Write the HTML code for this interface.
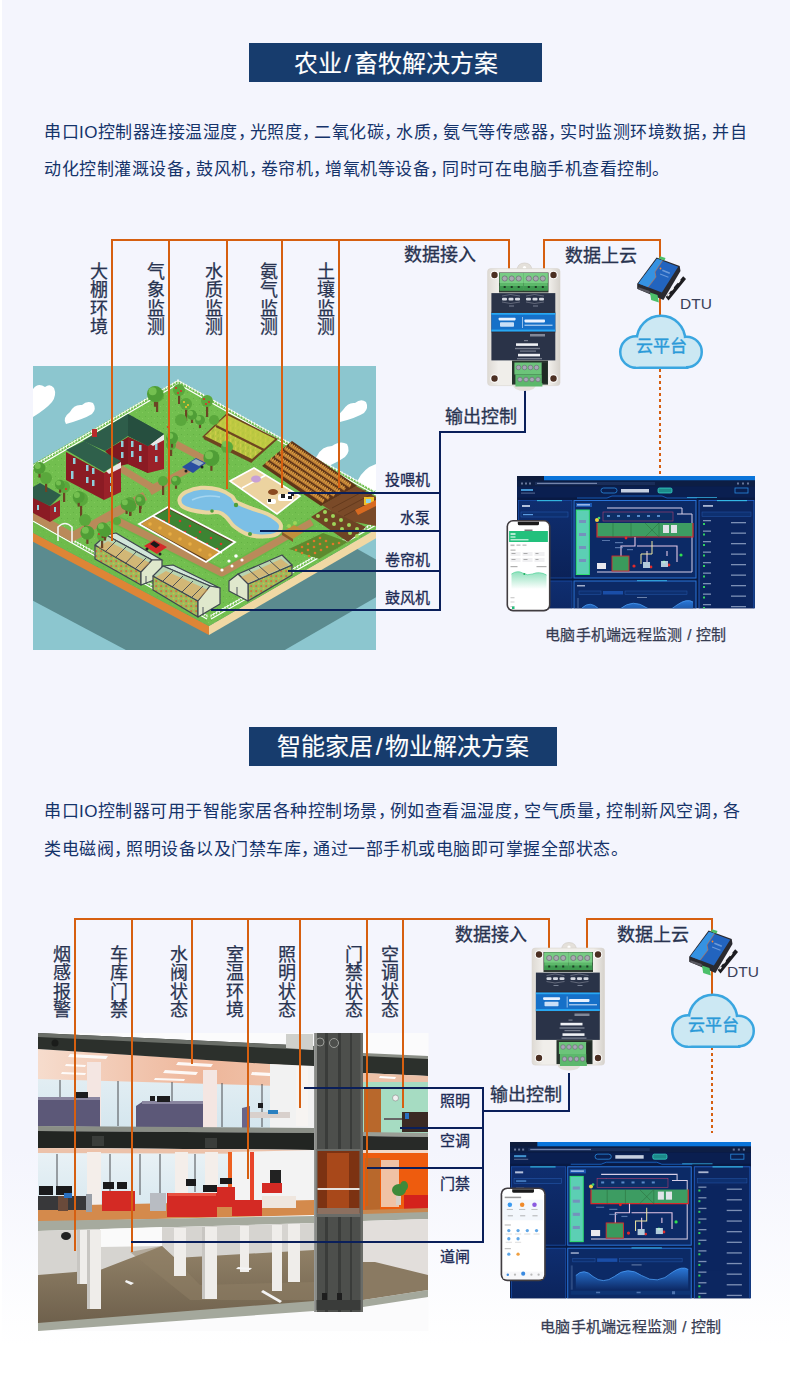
<!DOCTYPE html>
<html lang="zh-CN">
<head>
<meta charset="utf-8">
<style>
html,body{margin:0;padding:0;}
body{width:790px;height:1389px;overflow:hidden;font-family:"Liberation Sans",sans-serif;}
#pg{position:relative;width:790px;height:1389px;background:linear-gradient(to bottom,#f4f5fd 0,#f4f5fd 1150px,#ffffff 1345px);overflow:hidden;}
.a{position:absolute;white-space:nowrap;}
.title{position:absolute;background:#173c6d;color:#fff;-webkit-text-stroke:0.15px #fff;font-size:24px;line-height:39px;height:39px;text-align:center;}
.para{position:absolute;left:44px;color:#15336a;font-size:17px;line-height:37px;letter-spacing:0.5px;white-space:nowrap;}
.c{display:inline-block;width:12px;overflow:visible;}
.title span{position:relative;top:1px;}
.sl2{display:inline-block;width:12px;text-align:center;font-style:normal;}
.v{position:absolute;color:#283350;-webkit-text-stroke:0.25px #283350;font-size:18px;line-height:18.4px;width:18px;text-align:center;}
.lb{position:absolute;color:#283350;-webkit-text-stroke:0.3px #283350;font-size:18px;line-height:18px;white-space:nowrap;}
.sl{position:absolute;color:#1d2b55;-webkit-text-stroke:0.3px #1d2b55;font-size:15px;line-height:15px;white-space:nowrap;}
.cap{position:absolute;color:#363c52;-webkit-text-stroke:0.25px #363c52;font-size:15px;line-height:15px;letter-spacing:0.3px;white-space:nowrap;}
svg{position:absolute;left:0;top:0;}
</style>
</head>
<body>
<div id="pg">
<div class="a" style="left:0;top:0;width:2.5px;height:1389px;background:linear-gradient(to right,#ffffff 0,#ffffff 1.5px,rgba(255,255,255,0) 2.5px);"></div>

<!-- ============ SECTION 1 ============ -->
<div class="title" style="left:249px;top:43px;width:293px;"><span>农业<i class="sl2">/</i>畜牧解决方案</span></div>
<div class="para" style="top:113.5px;">串口IO控制器连接温湿度<span class="c">，</span>光照度<span class="c">，</span>二氧化碳<span class="c">，</span>水质<span class="c">，</span>氨气等传感器<span class="c">，</span>实时监测环境数据<span class="c">，</span>并自</div>
<div class="para" style="top:150.5px;">动化控制灌溉设备<span class="c">，</span>鼓风机<span class="c">，</span>卷帘机<span class="c">，</span>增氧机等设备<span class="c">，</span>同时可在电脑手机查看控制。</div>

<!-- FARM ILLUSTRATION -->
<svg id="farm" width="790" height="1389" viewBox="0 0 790 1389">
 <defs>
  <clipPath id="fclip"><rect x="33" y="366" width="343" height="284"/></clipPath>
  <pattern id="wheatY" width="5" height="6" patternUnits="userSpaceOnUse" patternTransform="skewY(-35)"><rect width="5" height="6" fill="#b8c640"/><rect x="0" y="0" width="1" height="4" fill="#d8d050" opacity="0.8"/><rect x="2.5" y="2" width="1" height="3" fill="#98b034" opacity="0.8"/></pattern>
  <pattern id="wheatB" width="4" height="6" patternUnits="userSpaceOnUse"><rect width="4" height="6" fill="#9a6230"/><rect x="0.5" y="0" width="1" height="4.5" fill="#d9a040"/><rect x="2.5" y="1.5" width="0.8" height="3.5" fill="#c98a34"/></pattern>
  <pattern id="crops" width="5" height="5" patternUnits="userSpaceOnUse"><rect width="5" height="5" fill="#98bc5c"/><circle cx="1.2" cy="1.2" r="1.1" fill="#d8643a" opacity="0.85"/><circle cx="3.6" cy="3.4" r="1" fill="#e0b444" opacity="0.85"/></pattern>
  <pattern id="grass" width="6" height="6" patternUnits="userSpaceOnUse"><rect width="6" height="6" fill="#72bf4f"/><rect x="1" y="2" width="1" height="1" fill="#64b044"/><rect x="4" y="4" width="1" height="1" fill="#82c95c"/></pattern>
 </defs>
 <g clip-path="url(#fclip)">
  <rect x="33" y="366" width="343" height="284" fill="#8cc6cf"/>
  <!-- clouds -->
  <g fill="#fff">
   <path d="M33 389 Q38 382 45 387 Q50 383 54 388 Q57 395 52 402 Q46 409 33 417 Z"/>
   <path d="M66 424 Q62 418 70 412 Q74 404 82 405 Q87 400 93 403 Q97 409 92 414 Q84 419 66 424 Z"/>
   <path d="M340 422 Q336 416 343 410 Q348 402 355 403 Q361 398 366 402 Q369 408 364 413 Q356 418 340 422 Z"/>
   <path d="M314 471 Q309 464 317 456 Q322 446 332 446 Q340 440 347 444 Q351 451 345 457 Q334 465 314 471 Z"/>
   <path d="M355 496 Q350 488 358 480 Q364 468 376 464 L376 490 Z"/>
  </g>
  <!-- shadow -->
  <polygon points="178,448 409,578 209,694 -29,568" fill="#5b8b8f"/>
  <!-- platform sides -->
  <polygon points="-29,500 209,626 209,635 -29,509" fill="#de8536"/>
  <polygon points="209,626 409,510 409,519 209,635" fill="#f0d8a4"/>
  <!-- platform top -->
  <polygon points="178,380 409,510 209,626 -29,500" fill="url(#grass)"/>
  <polygon points="33,522 205,617 209,626 -29,500 33,468" fill="#6ab848" opacity="0.5"/>
  <!-- fences -->
  <g stroke="#fff" stroke-width="1.2" fill="none">
   <path d="M33 469 L178 384 L376 495"/>
   <path d="M33 521 L207 619" />
   <path d="M211 619 L376 525" />
  </g>
  <g stroke="#fff" stroke-width="0.9" fill="none">
   <path d="M33 465.5 L178 380.5 L376 491.5"/>
   <path d="M33 517.5 L207 615.5" />
   <path d="M211 615.5 L376 521.5" />
  </g>
  <path d="M33.0 467.5 v-3.0 M35.8 465.9 v-3.0 M38.6 464.2 v-3.0 M41.4 462.6 v-3.0 M44.2 461.0 v-3.0 M46.9 459.3 v-3.0 M49.7 457.7 v-3.0 M52.5 456.1 v-3.0 M55.3 454.4 v-3.0 M58.1 452.8 v-3.0 M60.9 451.2 v-3.0 M63.7 449.5 v-3.0 M66.5 447.9 v-3.0 M69.2 446.2 v-3.0 M72.0 444.6 v-3.0 M74.8 443.0 v-3.0 M77.6 441.3 v-3.0 M80.4 439.7 v-3.0 M83.2 438.1 v-3.0 M86.0 436.4 v-3.0 M88.8 434.8 v-3.0 M91.6 433.2 v-3.0 M94.3 431.5 v-3.0 M97.1 429.9 v-3.0 M99.9 428.3 v-3.0 M102.7 426.6 v-3.0 M105.5 425.0 v-3.0 M108.3 423.4 v-3.0 M111.1 421.7 v-3.0 M113.9 420.1 v-3.0 M116.7 418.5 v-3.0 M119.4 416.8 v-3.0 M122.2 415.2 v-3.0 M125.0 413.6 v-3.0 M127.8 411.9 v-3.0 M130.6 410.3 v-3.0 M133.4 408.7 v-3.0 M136.2 407.0 v-3.0 M139.0 405.4 v-3.0 M141.8 403.8 v-3.0 M144.5 402.1 v-3.0 M147.3 400.5 v-3.0 M150.1 398.8 v-3.0 M152.9 397.2 v-3.0 M155.7 395.6 v-3.0 M158.5 393.9 v-3.0 M161.3 392.3 v-3.0 M164.1 390.7 v-3.0 M166.8 389.0 v-3.0 M169.6 387.4 v-3.0 M172.4 385.8 v-3.0 M175.2 384.1 v-3.0 M178.0 382.5 v-3.0 M178.0 382.5 v-3.0 M180.8 384.1 v-3.0 M183.7 385.7 v-3.0 M186.5 387.3 v-3.0 M189.3 388.8 v-3.0 M192.1 390.4 v-3.0 M195.0 392.0 v-3.0 M197.8 393.6 v-3.0 M200.6 395.2 v-3.0 M203.5 396.8 v-3.0 M206.3 398.4 v-3.0 M209.1 399.9 v-3.0 M211.9 401.5 v-3.0 M214.8 403.1 v-3.0 M217.6 404.7 v-3.0 M220.4 406.3 v-3.0 M223.3 407.9 v-3.0 M226.1 409.5 v-3.0 M228.9 411.0 v-3.0 M231.7 412.6 v-3.0 M234.6 414.2 v-3.0 M237.4 415.8 v-3.0 M240.2 417.4 v-3.0 M243.1 419.0 v-3.0 M245.9 420.6 v-3.0 M248.7 422.1 v-3.0 M251.5 423.7 v-3.0 M254.4 425.3 v-3.0 M257.2 426.9 v-3.0 M260.0 428.5 v-3.0 M262.9 430.1 v-3.0 M265.7 431.7 v-3.0 M268.5 433.2 v-3.0 M271.3 434.8 v-3.0 M274.2 436.4 v-3.0 M277.0 438.0 v-3.0 M279.8 439.6 v-3.0 M282.7 441.2 v-3.0 M285.5 442.8 v-3.0 M288.3 444.3 v-3.0 M291.1 445.9 v-3.0 M294.0 447.5 v-3.0 M296.8 449.1 v-3.0 M299.6 450.7 v-3.0 M302.5 452.3 v-3.0 M305.3 453.9 v-3.0 M308.1 455.4 v-3.0 M310.9 457.0 v-3.0 M313.8 458.6 v-3.0 M316.6 460.2 v-3.0 M319.4 461.8 v-3.0 M322.3 463.4 v-3.0 M325.1 465.0 v-3.0 M327.9 466.5 v-3.0 M330.7 468.1 v-3.0 M333.6 469.7 v-3.0 M336.4 471.3 v-3.0 M339.2 472.9 v-3.0 M342.1 474.5 v-3.0 M344.9 476.1 v-3.0 M347.7 477.6 v-3.0 M350.5 479.2 v-3.0 M353.4 480.8 v-3.0 M356.2 482.4 v-3.0 M359.0 484.0 v-3.0 M361.9 485.6 v-3.0 M364.7 487.2 v-3.0 M367.5 488.7 v-3.0 M370.3 490.3 v-3.0 M373.2 491.9 v-3.0 M376.0 493.5 v-3.0 M33.0 519.5 v-3.0 M35.8 521.1 v-3.0 M38.6 522.7 v-3.0 M41.4 524.2 v-3.0 M44.2 525.8 v-3.0 M47.0 527.4 v-3.0 M49.8 529.0 v-3.0 M52.6 530.6 v-3.0 M55.5 532.1 v-3.0 M58.3 533.7 v-3.0 M61.1 535.3 v-3.0 M63.9 536.9 v-3.0 M66.7 538.5 v-3.0 M69.5 540.0 v-3.0 M72.3 541.6 v-3.0 M75.1 543.2 v-3.0 M77.9 544.8 v-3.0 M80.7 546.4 v-3.0 M83.5 548.0 v-3.0 M86.3 549.5 v-3.0 M89.1 551.1 v-3.0 M91.9 552.7 v-3.0 M94.7 554.3 v-3.0 M97.5 555.9 v-3.0 M100.4 557.4 v-3.0 M103.2 559.0 v-3.0 M106.0 560.6 v-3.0 M108.8 562.2 v-3.0 M111.6 563.8 v-3.0 M114.4 565.3 v-3.0 M117.2 566.9 v-3.0 M120.0 568.5 v-3.0 M122.8 570.1 v-3.0 M125.6 571.7 v-3.0 M128.4 573.2 v-3.0 M131.2 574.8 v-3.0 M134.0 576.4 v-3.0 M136.8 578.0 v-3.0 M139.6 579.6 v-3.0 M142.5 581.1 v-3.0 M145.3 582.7 v-3.0 M148.1 584.3 v-3.0 M150.9 585.9 v-3.0 M153.7 587.5 v-3.0 M156.5 589.0 v-3.0 M159.3 590.6 v-3.0 M162.1 592.2 v-3.0 M164.9 593.8 v-3.0 M167.7 595.4 v-3.0 M170.5 597.0 v-3.0 M173.3 598.5 v-3.0 M176.1 600.1 v-3.0 M178.9 601.7 v-3.0 M181.7 603.3 v-3.0 M184.5 604.9 v-3.0 M187.4 606.4 v-3.0 M190.2 608.0 v-3.0 M193.0 609.6 v-3.0 M195.8 611.2 v-3.0 M198.6 612.8 v-3.0 M201.4 614.3 v-3.0 M204.2 615.9 v-3.0 M207.0 617.5 v-3.0 M211.0 617.5 v-3.0 M213.8 615.9 v-3.0 M216.6 614.3 v-3.0 M219.4 612.7 v-3.0 M222.2 611.1 v-3.0 M225.0 609.5 v-3.0 M227.8 607.9 v-3.0 M230.6 606.3 v-3.0 M233.4 604.8 v-3.0 M236.2 603.2 v-3.0 M239.0 601.6 v-3.0 M241.8 600.0 v-3.0 M244.6 598.4 v-3.0 M247.4 596.8 v-3.0 M250.2 595.2 v-3.0 M252.9 593.6 v-3.0 M255.7 592.0 v-3.0 M258.5 590.4 v-3.0 M261.3 588.8 v-3.0 M264.1 587.2 v-3.0 M266.9 585.6 v-3.0 M269.7 584.0 v-3.0 M272.5 582.4 v-3.0 M275.3 580.9 v-3.0 M278.1 579.3 v-3.0 M280.9 577.7 v-3.0 M283.7 576.1 v-3.0 M286.5 574.5 v-3.0 M289.3 572.9 v-3.0 M292.1 571.3 v-3.0 M294.9 569.7 v-3.0 M297.7 568.1 v-3.0 M300.5 566.5 v-3.0 M303.3 564.9 v-3.0 M306.1 563.3 v-3.0 M308.9 561.7 v-3.0 M311.7 560.1 v-3.0 M314.5 558.6 v-3.0 M317.3 557.0 v-3.0 M320.1 555.4 v-3.0 M322.9 553.8 v-3.0 M325.7 552.2 v-3.0 M328.5 550.6 v-3.0 M331.3 549.0 v-3.0 M334.1 547.4 v-3.0 M336.8 545.8 v-3.0 M339.6 544.2 v-3.0 M342.4 542.6 v-3.0 M345.2 541.0 v-3.0 M348.0 539.4 v-3.0 M350.8 537.8 v-3.0 M353.6 536.2 v-3.0 M356.4 534.7 v-3.0 M359.2 533.1 v-3.0 M362.0 531.5 v-3.0 M364.8 529.9 v-3.0 M367.6 528.3 v-3.0 M370.4 526.7 v-3.0 M373.2 525.1 v-3.0 M376.0 523.5 v-3.0 " stroke="#fff" stroke-width="0.9" fill="none"/>
  <!-- paths -->
  <g stroke="#6ab848" stroke-width="10" fill="none" stroke-linejoin="round">
   <path d="M108 516 L222 573 L312 522"/>
  </g>
  <g stroke="#b98a5a" stroke-width="7" fill="none" stroke-linejoin="round">
   <path d="M120 468 L153 488 L206 460 L176 444"/>
   <path d="M33 515 L72 537 L145 496" stroke-width="9"/>
   <path d="M108 516 L222 573 L312 522"/>
   <path d="M150 492 L176 477"/>
  </g>
  <!-- wheat field (yellow green) -->
  <polygon points="202,437 227,413 278,439 252,462" fill="#6e4420"/>
  <polygon points="205,436 227,415 275,439 252,459" fill="url(#wheatY)"/>
  <polygon points="216,424 227,415 275,439 264,449" fill="#c2cc44" opacity="0.55"/>
  <path d="M204 438 L252 462 M216 426 L264 450" stroke="#6e4420" stroke-width="2.2"/>
  <!-- brown wheat field -->
  <polygon points="262,466 292,441 357,486 321,506" fill="#5e3418"/>
  <path d="M266.2 463.2 L323.6 501.6 M270.9 459.5 L328.9 498.5 M275.6 455.8 L334.3 495.5 M280.4 452.2 L339.7 492.5 M285.1 448.5 L345.1 489.5 M289.8 444.8 L350.4 486.4 " stroke="#b87a34" stroke-width="3.2"/>
  <path d="M266.2 463.2 L323.6 501.6 M270.9 459.5 L328.9 498.5 M275.6 455.8 L334.3 495.5 M280.4 452.2 L339.7 492.5 M285.1 448.5 L345.1 489.5 M289.8 444.8 L350.4 486.4 " stroke="#e0a444" stroke-width="3.2" stroke-dasharray="0.9 1.3" transform="translate(0 -1.2)"/>
  <!-- lower soil + tractor -->
  <polygon points="322,505 356,486 376,497 376,526 345,520" fill="#7a4a28"/>
  <g stroke="#5e361a" stroke-width="0.8"><path d="M332 508 L366 490 M338 512 L372 494 M344 516 L376 499"/></g>
  <rect x="364" y="497" width="10" height="8" fill="#f0c22a"/>
  <rect x="366" y="499" width="5" height="4" fill="#8fd3e8"/>
  <polygon points="355,510 376,500 376,506 358,515" fill="#d86a20"/>
  <!-- cabbage field -->
  <polygon points="311,517 325,508 366,527 348,542" fill="#6e4424"/>
  <g fill="#9ed65a">
   <circle cx="318" cy="516" r="2"/><circle cx="325" cy="512" r="2"/><circle cx="326" cy="520" r="2"/><circle cx="333" cy="516" r="2"/><circle cx="334" cy="524" r="2"/><circle cx="341" cy="520" r="2"/><circle cx="342" cy="529" r="2"/><circle cx="349" cy="525" r="2"/><circle cx="350" cy="533" r="2"/><circle cx="357" cy="529" r="2"/><circle cx="357" cy="536" r="2"/>
  </g>
  <!-- carrot field -->
  <polygon points="289,549 323,533 348,542 319,559" fill="#5e8a2e"/>
  <g fill="#e0782a">
   <circle cx="296" cy="550" r="1.3"/><circle cx="302" cy="547" r="1.3"/><circle cx="308" cy="544" r="1.3"/><circle cx="314" cy="541" r="1.3"/><circle cx="320" cy="538" r="1.3"/>
   <circle cx="302" cy="553" r="1.3"/><circle cx="308" cy="550" r="1.3"/><circle cx="314" cy="547" r="1.3"/><circle cx="320" cy="544" r="1.3"/><circle cx="326" cy="541" r="1.3"/>
   <circle cx="309" cy="556" r="1.3"/><circle cx="315" cy="553" r="1.3"/><circle cx="321" cy="550" r="1.3"/><circle cx="327" cy="547" r="1.3"/><circle cx="333" cy="544" r="1.3"/><circle cx="339" cy="543" r="1.3"/>
  </g>
  <!-- crates -->
  <polygon points="282,532 294,525 305,531 293,539" fill="#c0903c"/>
  <polygon points="282,532 293,539 293,542 282,535" fill="#8a5a28"/>
  <g fill="#9ed65a"><circle cx="289" cy="526" r="2"/><circle cx="295" cy="523" r="2"/></g>
  <!-- animal pen -->
  <polygon points="230,481 254,468 300,496 277,514" fill="#ecd3a0"/>
  <path d="M230 481 L254 468 L300 496 L277 514 Z M242 488 L266 475" stroke="#fff" stroke-width="1.6" fill="none"/>
  <ellipse cx="256" cy="479" rx="5" ry="3.5" fill="#c8a0d6"/>
  <ellipse cx="273" cy="492" rx="5" ry="3" fill="#8a4a20"/>
  <rect x="278" y="494" width="15" height="7" rx="2" fill="#fff"/>
  <g fill="#222"><rect x="281" y="494" width="4" height="4"/><rect x="288" y="496" width="4" height="3"/><rect x="291" y="493" width="3" height="3"/></g>
  <rect x="267" y="499" width="9" height="5" rx="2" fill="#fff"/><rect x="268" y="499" width="3" height="3" fill="#222"/>
  <!-- pond -->
  <path d="M179.7 498.5 C180.4 496.2 182.4 493.8 186.0 492.0 C189.6 490.2 195.5 488.2 201.0 487.8 C206.5 487.4 213.9 488.2 219.0 489.6 C224.1 491.0 228.7 493.9 231.6 496.0 C234.5 498.1 233.3 500.2 236.7 502.3 C240.1 504.4 246.9 506.7 252.0 508.6 C257.1 510.5 262.8 511.8 267.0 513.7 C271.2 515.6 274.7 518.0 277.0 520.0 C279.3 522.0 281.0 523.7 281.0 526.0 C281.0 528.3 280.2 532.2 277.0 534.0 C273.8 535.8 267.0 536.5 262.0 536.5 C257.0 536.5 251.5 535.7 246.8 534.0 C242.1 532.3 237.4 529.0 234.0 526.3 C230.6 523.5 229.1 519.8 226.6 517.5 C224.1 515.2 222.4 513.2 219.0 512.4 C215.6 511.5 210.7 512.8 206.0 512.4 C201.3 512.0 195.0 511.1 191.0 510.0 C187.0 508.9 183.9 507.9 182.0 506.0 C180.1 504.1 179.0 500.8 179.7 498.5 Z" fill="#7bbfe6" stroke="#e9d6a0" stroke-width="4" stroke-linejoin="round"/>
  <path d="M192 500 Q205 494 220 497" stroke="#a6d6f0" stroke-width="1.5" fill="none"/>
  <g fill="#4e9e3a"><circle cx="236" cy="505" r="2.2"/><circle cx="250" cy="534" r="2"/><circle cx="212" cy="511" r="1.8"/></g>
  <!-- vegetable garden -->
  <polygon points="139,524 168,507 235,542 206,562" fill="#5e3e20"/>
  <polygon points="141,524 153,517 221,553 207,560" fill="#cf973a"/>
  <g fill="#e9ae44"><circle cx="150" cy="524" r="1.8"/><circle cx="160" cy="528" r="1.8"/><circle cx="170" cy="534" r="1.8"/><circle cx="180" cy="539" r="1.8"/><circle cx="190" cy="544" r="1.8"/><circle cx="200" cy="550" r="1.8"/><circle cx="210" cy="555" r="1.8"/></g>
  <polygon points="155,516 168,509 233,543 222,552" fill="#3c8432"/>
  <g fill="#d8382a">
   <circle cx="170" cy="516" r="1.3"/><circle cx="180" cy="521" r="1.3"/><circle cx="190" cy="526" r="1.3"/><circle cx="200" cy="532" r="1.3"/><circle cx="211" cy="538" r="1.3"/><circle cx="221" cy="544" r="1.3"/>
   <circle cx="164" cy="521" r="1.3"/><circle cx="174" cy="527" r="1.3"/><circle cx="185" cy="532" r="1.3"/><circle cx="196" cy="538" r="1.3"/><circle cx="207" cy="544" r="1.3"/><circle cx="217" cy="549" r="1.3"/>
  </g>
  <path d="M139 524 L168 507 L235 542 L206 562 Z M153 516 L222 553" stroke="#fff" stroke-width="1.8" fill="none"/>
  <g fill="#fff"><circle cx="236" cy="556" r="1.8"/><circle cx="229" cy="561" r="1.6"/><circle cx="242" cy="560" r="1.6"/><circle cx="222" cy="570" r="1.6"/><circle cx="232" cy="566" r="1.5"/></g>
  <!-- greenhouses -->
  <g stroke="#3e4650" stroke-width="1.2" stroke-linejoin="round">
   <!-- GH1 -->
   <polygon points="95,545 141,572 141,585 95,559" fill="url(#crops)"/>
   <polygon points="106,535 116,533 162,560 152,560" fill="#d2e6da"/>
   <polygon points="106,535 152,560 141,572 95,545" fill="#b8d4b0"/>
   <polygon points="141,572 152,560 162,560 162,577 141,585" fill="#dfe8cc"/>
   <!-- GH2 -->
   <polygon points="153,576 198,601 198,617 153,590" fill="url(#crops)"/>
   <polygon points="163,566 173,565 220,588 210,586" fill="#d2e6da"/>
   <polygon points="163,566 210,586 198,601 153,576" fill="#b8d4b0"/>
   <polygon points="198,601 210,586 220,588 220,604 198,617" fill="#dfe8cc"/>
   <!-- GH3 -->
   <polygon points="248,584 292,565 292,575 248,601" fill="url(#crops)"/>
   <polygon points="238,574 282,555 292,565 248,584" fill="#b8d4b0"/>
   <polygon points="229,581 238,574 248,584 248,601 229,591" fill="#dfe8cc"/>
  </g>
  <g fill="#e8a048" opacity="0.55">
   <polygon points="108,541 150,563 141,571 98,547"/>
   <polygon points="166,571 208,590 198,600 156,577"/>
   <polygon points="241,577 281,559 289,565 248,583"/>
  </g>
  <g stroke="#3e4650" stroke-width="0.9">
   <path d="M116 541 L105 552 M126 547 L115 558 M136 552 L125 564 M146 558 L135 569"/>
   <path d="M173 571 L162 582 M183 576 L172 587 M193 581 L182 592 M203 586 L192 597"/>
   <path d="M249 570 L259 579 M259 566 L269 575 M270 561 L280 570"/>
   <path d="M146 576 V584 M203 607 V615 M237 587 V595"/>
  </g>
  <!-- big house: back block -->
  <polygon points="105,451 128,437 148,446 148,473 128,464 120,466" fill="#7e1820"/>
  <polygon points="128,437 148,446 148,473 128,464" fill="#8b1b24"/>
  <polygon points="148,446 164,435 164,469 148,473" fill="#9a2129"/>
  <polygon points="150,444 164,434 164,440 153,446" fill="#e8e8e8"/>
  <polygon points="83,441 128,414 164,434 148,446 128,436 105,451" fill="#2e5d4a"/>
  <polygon points="128,414 164,434 148,446 128,436" fill="#264f3f"/>
  <!-- big house: front block -->
  <polygon points="66,452 104,473 104,500 66,480" fill="#8b1b24"/>
  <polygon points="104,473 121,463 121,492 104,500" fill="#9a2129"/>
  <polygon points="106,471 121,462 121,468 109,474" fill="#e8e8e8"/>
  <polygon points="66,450 84,441 121,461 104,472" fill="#2f604b"/>
  <rect x="92" y="429" width="5" height="8" fill="#b82a2a"/>
  <g fill="#8fd0dc">
   <rect x="73" y="458" width="2.5" height="6"/><rect x="86" y="465" width="2.5" height="6"/><rect x="92" y="468" width="2.5" height="6"/>
   <rect x="86" y="477" width="2.5" height="6"/><rect x="92" y="480" width="2.5" height="6"/><rect x="71" y="471" width="2.5" height="8"/>
   <rect x="110" y="477" width="2.5" height="6"/><rect x="110" y="486" width="2.5" height="6"/>
   <rect x="121" y="441" width="2.5" height="6"/><rect x="121" y="452" width="2.5" height="6"/>
   <rect x="131" y="441" width="2.5" height="6"/><rect x="131" y="451" width="2.5" height="6"/><rect x="139" y="445" width="2.5" height="6"/><rect x="139" y="456" width="2.5" height="6"/>
   <rect x="155" y="444" width="2.5" height="6"/><rect x="155" y="456" width="2.5" height="6"/>
  </g>
  <!-- small house -->
  <polygon points="33,497 50,506 50,522 33,513" fill="#8b1b24"/>
  <polygon points="50,506 60,500 60,516 50,522" fill="#9a2129"/>
  <polygon points="33,487 40,483 61,495 50,506 33,498" fill="#2e5d4a"/>
  <rect x="37" y="505" width="2" height="5" fill="#8fd0dc"/><rect x="54" y="507" width="2" height="5" fill="#8fd0dc"/>
  <!-- trees -->
  <g fill="#6b4424">
   <rect x="156" y="398" width="2.2" height="14"/><rect x="178" y="392" width="2.2" height="12"/><rect x="185" y="407" width="2.2" height="14"/><rect x="206" y="404" width="2.2" height="13"/>
   <rect x="45" y="482" width="2.2" height="10"/><rect x="63" y="490" width="2.2" height="12"/><rect x="80" y="503" width="2.2" height="14"/><rect x="84" y="524" width="2.2" height="12"/>
   <rect x="129" y="506" width="2.2" height="10"/><rect x="139" y="503" width="2.2" height="10"/><rect x="162" y="485" width="2.2" height="10"/><rect x="226" y="452" width="2.2" height="12"/>
   <rect x="170" y="448" width="2.2" height="8"/><rect x="101" y="540" width="2.2" height="8"/>
  </g>
  <g fill="#5aa83c">
   <circle cx="157" cy="395" r="7"/><circle cx="179" cy="390" r="6"/><circle cx="186" cy="404" r="6"/><circle cx="207" cy="401" r="6"/>
   <circle cx="46" cy="478" r="6"/><circle cx="64" cy="487" r="6"/><circle cx="81" cy="499" r="7"/><circle cx="85" cy="520" r="6"/>
   <circle cx="130" cy="502" r="5"/><circle cx="140" cy="499" r="5"/><circle cx="163" cy="481" r="5"/><circle cx="227" cy="447" r="6"/>
   <circle cx="171" cy="445" r="5"/><circle cx="102" cy="536" r="5"/><circle cx="181" cy="420" r="6"/><circle cx="214" cy="420" r="5"/><circle cx="117" cy="521" r="4"/>
  </g>
  <g fill="#7cc858" opacity="0.8">
   <circle cx="155" cy="392" r="3"/><circle cx="80" cy="496" r="3"/><circle cx="225" cy="444" r="3"/><circle cx="62" cy="484" r="3"/>
  </g>
  <g fill="#d8342a"><circle cx="176" cy="388" r="1.1"/><circle cx="181" cy="391" r="1.1"/><circle cx="178" cy="393" r="1.1"/><circle cx="204" cy="399" r="1.1"/><circle cx="209" cy="402" r="1.1"/><circle cx="206" cy="404" r="1.1"/><circle cx="62" cy="485" r="1.1"/><circle cx="66" cy="489" r="1.1"/><circle cx="99" cy="534" r="1.1"/><circle cx="104" cy="537" r="1.1"/><circle cx="168" cy="427" r="1.1"/></g>
  <g fill="#f0c030"><circle cx="184" cy="402" r="1.1"/><circle cx="188" cy="405" r="1.1"/><circle cx="186" cy="407" r="1.1"/></g>
  <!-- extra trees -->
  <g>
   <rect x="210.3" y="458.0" width="2.2" height="12.8" fill="#6b4424"/>
   <rect x="129.3" y="506.0" width="2.2" height="9.6" fill="#6b4424"/>
   <rect x="139.4" y="501.0" width="2.2" height="8.0" fill="#6b4424"/>
   <rect x="174.9" y="480.8" width="2.2" height="8.0" fill="#6b4424"/>
   <rect x="103.9" y="531.0" width="2.2" height="9.6" fill="#6b4424"/>
   <rect x="86.3" y="532.7" width="2.2" height="11.2" fill="#6b4424"/>
   <rect x="101.6" y="528.3" width="2.2" height="9.6" fill="#6b4424"/>
   <rect x="77.6" y="497.0" width="2.2" height="9.6" fill="#6b4424"/>
   <rect x="125.5" y="504.4" width="2.2" height="9.6" fill="#6b4424"/>
   <rect x="170.9" y="438.0" width="2.2" height="9.6" fill="#6b4424"/>
   <rect x="153.9" y="394.0" width="2.2" height="12.8" fill="#6b4424"/>
   <rect x="38.4" y="468.0" width="2.2" height="9.6" fill="#6b4424"/>
   <rect x="58.9" y="484.7" width="2.2" height="8.0" fill="#6b4424"/>
   <rect x="198.9" y="420.0" width="2.2" height="8.0" fill="#6b4424"/>
   <rect x="190.9" y="415.0" width="2.2" height="8.0" fill="#6b4424"/>
   <circle cx="211.4" cy="458.0" r="8.0" fill="#4f9e36"/><circle cx="209.0" cy="455.2" r="4.0" fill="#74c050"/>
   <circle cx="130.4" cy="506.0" r="6.0" fill="#4f9e36"/><circle cx="128.6" cy="503.9" r="3.0" fill="#74c050"/>
   <circle cx="140.5" cy="501.0" r="5.0" fill="#4f9e36"/><circle cx="139.0" cy="499.2" r="2.5" fill="#74c050"/>
   <circle cx="176.0" cy="480.8" r="5.0" fill="#4f9e36"/><circle cx="174.5" cy="479.1" r="2.5" fill="#74c050"/>
   <circle cx="105.0" cy="531.0" r="6.0" fill="#4f9e36"/><circle cx="103.2" cy="528.9" r="3.0" fill="#74c050"/>
   <circle cx="87.4" cy="532.7" r="7.0" fill="#4f9e36"/><circle cx="85.3" cy="530.2" r="3.5" fill="#74c050"/>
   <circle cx="102.7" cy="528.3" r="6.0" fill="#4f9e36"/><circle cx="100.9" cy="526.2" r="3.0" fill="#74c050"/>
   <circle cx="78.7" cy="497.0" r="6.0" fill="#4f9e36"/><circle cx="76.9" cy="494.9" r="3.0" fill="#74c050"/>
   <circle cx="126.6" cy="504.4" r="6.0" fill="#4f9e36"/><circle cx="124.8" cy="502.3" r="3.0" fill="#74c050"/>
   <circle cx="172.0" cy="438.0" r="6.0" fill="#4f9e36"/><circle cx="170.2" cy="435.9" r="3.0" fill="#74c050"/>
   <circle cx="155.0" cy="394.0" r="8.0" fill="#4f9e36"/><circle cx="152.6" cy="391.2" r="4.0" fill="#74c050"/>
   <circle cx="39.5" cy="468.0" r="6.0" fill="#4f9e36"/><circle cx="37.7" cy="465.9" r="3.0" fill="#74c050"/>
   <circle cx="60.0" cy="484.7" r="5.0" fill="#4f9e36"/><circle cx="58.5" cy="482.9" r="2.5" fill="#74c050"/>
   <circle cx="200.0" cy="420.0" r="5.0" fill="#4f9e36"/><circle cx="198.5" cy="418.2" r="2.5" fill="#74c050"/>
   <circle cx="192.0" cy="415.0" r="5.0" fill="#4f9e36"/><circle cx="190.5" cy="413.2" r="2.5" fill="#74c050"/>
  </g>
  <path d="M58 541 V527 Q65 520 72 527 V543" stroke="#f4f4f4" stroke-width="1.6" fill="none"/>
  <!-- cars -->
  <polygon points="182,467 196,458 206,463 193,473" fill="#2a4ea0"/>
  <polygon points="191,462 196,459 204,463 199,466" fill="#9ab0c0"/>
  <circle cx="186" cy="471" r="1.5" fill="#222"/><circle cx="202" cy="467" r="1.5" fill="#222"/>
  <polygon points="144,546 154,540 167,547 157,554" fill="#d42a2a"/>
  <polygon points="150,544 154,541 160,545 156,548" fill="#1a1a1a"/>
  <circle cx="147" cy="549" r="1.5" fill="#222"/><circle cx="160" cy="554" r="1.5" fill="#222"/>
 </g>
</svg>

<!-- SCREEN 1 -->
<svg id="scr1" width="790" height="1389" viewBox="0 0 790 1389">
 <defs>
  <linearGradient id="panelG" x1="0" x2="0" y1="0" y2="1"><stop offset="0" stop-color="#0f2e70"/><stop offset="1" stop-color="#0b2258"/></linearGradient>
  <linearGradient id="chartG" x1="0" x2="0" y1="0" y2="1"><stop offset="0" stop-color="#2a78d8"/><stop offset="1" stop-color="#0d2a66"/></linearGradient>
  <linearGradient id="phChart" x1="0" x2="0" y1="0" y2="1"><stop offset="0" stop-color="#8fe0bc"/><stop offset="1" stop-color="#ffffff"/></linearGradient>
  <g id="scr">
   <!-- frame, coordinates for 238x150 base at origin -->
   <rect x="0" y="0" width="238" height="160" fill="#081a44"/>
   <rect x="0" y="0" width="238" height="4.5" fill="#0e1c3c"/>
   <rect x="27" y="0" width="211" height="4.5" fill="#0a74da"/>
   <rect x="0" y="4.5" width="238" height="6" fill="#0d1e44"/>
   <rect x="18" y="6" width="120" height="3" fill="#1a2e5a"/>
   <rect x="20" y="6.8" width="60" height="1.2" fill="#9aaacc" opacity="0.7"/>
   <g fill="#7e8cb0" opacity="0.8"><rect x="4" y="6.5" width="2" height="2"/><rect x="8" y="6.5" width="2" height="2"/><rect x="12" y="6.5" width="2" height="2"/><rect x="220" y="6.5" width="2" height="2"/><rect x="225" y="6.5" width="2" height="2"/><rect x="230" y="6.5" width="2" height="2"/></g>
   <rect x="0" y="10.5" width="238" height="11" fill="#0a1f50"/>
   <rect x="4" y="13" width="12" height="2" fill="#4fb0f0" opacity="0.8"/>
   <rect x="4" y="16.5" width="14" height="1.2" fill="#7a8ab0" opacity="0.6"/>
   <rect x="84" y="12" width="16" height="5" rx="2.5" fill="none" stroke="#2a8ae0" stroke-width="0.8"/>
   <rect x="104" y="13" width="28" height="3.5" fill="#e8eefa" opacity="0.85"/>
   <rect x="141" y="12" width="14" height="5" rx="1.5" fill="#1c8a8a" stroke="#3ae0d0" stroke-width="0.7"/>
   <rect x="218" y="12" width="13" height="5" fill="none" stroke="#2a8ae0" stroke-width="0.8"/>
   <path d="M60 22 L90 22 L95 20 L145 20 L150 22 L180 22" stroke="#1a6ad0" stroke-width="0.8" fill="none"/>
   <rect x="170" y="21" width="30" height="1" fill="#3ac0f0" opacity="0.7"/>
   <!-- left panel -->
   <rect x="1.5" y="24.5" width="53.5" height="77.5" fill="url(#panelG)" stroke="#1a4ea8" stroke-width="0.8"/>
   <rect x="20" y="24" width="25" height="1.2" fill="#3ad0f0" opacity="0.8"/>
   <rect x="5" y="29" width="8" height="2" fill="#dfe6f6" opacity="0.8"/>
   <rect x="4" y="36" width="47" height="5" fill="#0e3070" stroke="#2456a8" stroke-width="0.6"/>
   <rect x="6" y="38" width="10" height="1.2" fill="#5a9ae0"/>
   <rect x="6" y="45" width="8" height="1.5" fill="#9aaacc" opacity="0.6"/>
   <!-- lower left panel -->
   <rect x="1.5" y="105" width="53.5" height="60" fill="url(#panelG)" stroke="#1a4ea8" stroke-width="0.8"/>
   <!-- middle panel -->
   <rect x="57" y="24.5" width="122" height="77.5" fill="#0c2a66" stroke="#2a74d8" stroke-width="1"/>
   <rect x="59" y="27" width="16" height="4" fill="#1a56b0"/>
   <rect x="60" y="28" width="13" height="1.6" fill="#cfe0ff" opacity="0.7"/>
   <rect x="59.3" y="34" width="13" height="64.5" fill="#5ccfb4" stroke="#2fe070" stroke-width="1"/>
   <g fill="#7a84c0" opacity="0.8"><rect x="62" y="44" width="7" height="3"/><rect x="62" y="57" width="7" height="3"/><rect x="62" y="70" width="7" height="3"/><rect x="62" y="83" width="7" height="3"/></g>
   <!-- process drawing -->
   <path d="M90 32 L165 32 L165 38 M95 44 L95 36 M160 38 L175 38 L175 96 L80 96" stroke="#d8d0e8" stroke-width="1" fill="none"/>
   <rect x="80" y="47" width="96" height="13.5" fill="#3d9c62"/>
   <path d="M80 47 L80 61 L176 61 L176 47" stroke="#d82a2a" stroke-width="1.2" fill="none"/>
   <g stroke="#2a6a3a" stroke-width="0.5"><path d="M96 47 V61 M114 47 V61 M128 47 L142 61 M142 47 L128 61 M142 47 V61"/></g>
   <rect x="146" y="49" width="6" height="8" fill="#e0e4e8"/><rect x="154" y="49" width="6" height="8" fill="#e0e4e8"/>
   <rect x="86" y="36" width="70" height="9" fill="#0d2e66" stroke="#b04070" stroke-width="0.6"/>
   <g fill="#6aa0e0" opacity="0.8"><rect x="90" y="39" width="3" height="2"/><rect x="100" y="39" width="3" height="2"/><rect x="110" y="39" width="3" height="2"/><rect x="120" y="39" width="3" height="2"/><rect x="130" y="39" width="3" height="2"/><rect x="140" y="39" width="3" height="2"/></g>
   <circle cx="80" cy="44" r="2" fill="#f0d040"/><circle cx="82" cy="42" r="1.3" fill="#40d070"/>
   <path d="M118 61 V70 H104 V88 M120 70 H160 V86 M130 75 V86 M150 75 L150 80" stroke="#e6c8e6" stroke-width="1.1" fill="none"/>
   <path d="M135 65 V78 L124 78 L124 88" stroke="#f0e8a0" stroke-width="1" fill="none"/>
   <rect x="95" y="80" width="17" height="15" fill="#3a9a5c" stroke="#d82a2a" stroke-width="0.9"/>
   <rect x="80" y="87" width="9" height="6" fill="#e8e8ee"/>
   <g fill="#30e050"><circle cx="164" cy="79" r="1.6"/><circle cx="147" cy="86" r="1.6"/></g>
   <g fill="#e02a2a"><circle cx="117" cy="90" r="1.6"/><circle cx="134" cy="91" r="1.4"/><circle cx="152" cy="89" r="1.4"/><circle cx="109" cy="62" r="1.4"/></g>
   <g fill="#cfe8f0" opacity="0.85"><rect x="126" y="86" width="7" height="6"/><rect x="144" y="85" width="7" height="6"/></g>
   <g fill="#8aa8d8" opacity="0.6"><rect x="98" y="66" width="8" height="1.2"/><rect x="98" y="71" width="8" height="1.2"/><rect x="110" y="73" width="6" height="1.2"/><rect x="85" y="64" width="8" height="1"/></g>
   <!-- lower middle panel -->
   <rect x="57" y="105" width="122" height="60" fill="#0c2a66" stroke="#2a74d8" stroke-width="1"/>
   <rect x="120" y="104" width="30" height="1.2" fill="#3ac0f0" opacity="0.7"/>
   <rect x="60" y="109" width="8" height="1.5" fill="#dfe6f6" opacity="0.7"/>
   <rect x="62" y="115" width="22" height="3.5" fill="#0e3070" stroke="#2456a8" stroke-width="0.5"/>
   <rect x="86" y="115" width="20" height="3.5" fill="#1a4ea8"/>
   <rect x="108" y="115" width="62" height="3.5" fill="#0e3070" stroke="#2456a8" stroke-width="0.5"/>
   <rect x="60" y="122" width="2" height="24" fill="#5a7ab0" opacity="0.4"/>
   <path d="M65 146 L65 132 Q73 124 82 133 Q92 141 103 133 Q116 122 130 132 Q146 142 160 129 Q170 122 176 126 L176 146 Z" fill="url(#chartG)"/>
   <path d="M65 132 Q73 124 82 133 Q92 141 103 133 Q116 122 130 132 Q146 142 160 129 Q170 122 176 126" stroke="#4a9af0" stroke-width="0.8" fill="none"/>
   <rect x="60" y="147" width="118" height="4" fill="#0e3474"/>
   <g fill="#7aa0d8" opacity="0.6"><rect x="85" y="148" width="4" height="1.5"/><rect x="125" y="148" width="4" height="1.5"/><rect x="160" y="147.5" width="3" height="3"/></g>
   <rect x="120" y="121" width="10" height="1" fill="#c8d8f0" opacity="0.5"/>
   <g fill="#c8d6ee" opacity="0.5"><rect x="5" y="112" width="14" height="1.2"/><rect x="5" y="118" width="10" height="1.2"/><rect x="5" y="124" width="22" height="1.2"/><rect x="5" y="130" width="12" height="1.2"/></g>
   <!-- right panel -->
   <rect x="182" y="24.5" width="55" height="135.5" fill="#0c2660" stroke="#2462c8" stroke-width="0.9"/>
   <rect x="200" y="24" width="30" height="1.2" fill="#3ad0f0" opacity="0.8"/>
   <rect x="186" y="29" width="10" height="1.8" fill="#dfe6f6" opacity="0.75"/>
   <rect x="185" y="36" width="49" height="4.5" fill="#0e3070" stroke="#2456a8" stroke-width="0.5"/>
   <g id="rows">
    <g fill="#c8d6ee" opacity="0.6">
     <rect x="186" y="44" width="8" height="1.3"/><rect x="214" y="46" width="15" height="1.3"/>
     <rect x="186" y="54.5" width="8" height="1.3"/><rect x="214" y="56.5" width="15" height="1.3"/>
     <rect x="186" y="65" width="8" height="1.3"/><rect x="214" y="67" width="15" height="1.3"/>
     <rect x="186" y="75.5" width="8" height="1.3"/><rect x="214" y="77.5" width="15" height="1.3"/>
     <rect x="186" y="86" width="8" height="1.3"/><rect x="214" y="88" width="15" height="1.3"/>
     <rect x="186" y="96.5" width="8" height="1.3"/><rect x="214" y="98.5" width="15" height="1.3"/>
     <rect x="186" y="107" width="8" height="1.3"/><rect x="214" y="109" width="15" height="1.3"/>
     <rect x="186" y="117.5" width="8" height="1.3"/><rect x="214" y="119.5" width="15" height="1.3"/>
     <rect x="186" y="128" width="8" height="1.3"/><rect x="214" y="130" width="15" height="1.3"/>
     <rect x="186" y="138.5" width="8" height="1.3"/><rect x="214" y="140.5" width="15" height="1.3"/>
     <rect x="186" y="149" width="8" height="1.3"/><rect x="214" y="151" width="15" height="1.3"/>
    </g>
    <g fill="#30d060">
     <rect x="186" y="47" width="2" height="2"/><rect x="186" y="57.5" width="2" height="2"/><rect x="186" y="68" width="2" height="2"/><rect x="186" y="78.5" width="2" height="2"/><rect x="186" y="89" width="2" height="2"/><rect x="186" y="99.5" width="2" height="2"/><rect x="186" y="110" width="2" height="2"/><rect x="186" y="120.5" width="2" height="2"/><rect x="186" y="131" width="2" height="2"/><rect x="186" y="141.5" width="2" height="2"/><rect x="186" y="152" width="2" height="2"/>
    </g>
   </g>
  </g>
  <g id="phone2">
   <rect x="0" y="0" width="44" height="91.4" rx="6.5" fill="#403c40"/>
   <rect x="1.6" y="1.6" width="40.8" height="88.2" rx="5" fill="#ffffff"/>
   <path d="M11.3 1.8 H32.5 V3.8 Q32.5 5.3 31 5.3 H12.8 Q11.3 5.3 11.3 3.8 Z" fill="#1a1a1a"/>
   <rect x="4" y="9" width="16" height="1.5" fill="#555" opacity="0.6"/>
   <rect x="2.6" y="12" width="38.8" height="20" fill="#f3f7fc"/>
   <g fill="#3a9af0"><circle cx="9" cy="17" r="2.2"/></g><circle cx="21" cy="17" r="2.2" fill="#f08a2a"/><circle cx="33" cy="17" r="2.2" fill="#8a5ae0"/>
   <g fill="#888" opacity="0.5"><rect x="6" y="21" width="6" height="1"/><rect x="18" y="21" width="6" height="1"/><rect x="30" y="21" width="6" height="1"/><rect x="7" y="27" width="5" height="1.2"/><rect x="19" y="27" width="5" height="1.2"/><rect x="31" y="27" width="5" height="1.2"/><rect x="4" y="36" width="6" height="1.2"/><rect x="4" y="59" width="6" height="1.2"/></g>
   <g fill="#2a8ae0" opacity="0.75"><circle cx="8" cy="42" r="1.6"/><circle cx="17" cy="42" r="1.6"/><circle cx="26" cy="42" r="1.6"/><circle cx="35" cy="42" r="1.6"/><circle cx="8" cy="50" r="1.6"/><circle cx="17" cy="50" r="1.6"/><circle cx="8" cy="65" r="1.6"/></g>
   <circle cx="17" cy="65" r="1.6" fill="#f0a040"/>
   <g fill="#999" opacity="0.4"><rect x="5" y="45" width="6" height="0.8"/><rect x="14" y="45" width="6" height="0.8"/><rect x="23" y="45" width="6" height="0.8"/><rect x="32" y="45" width="6" height="0.8"/><rect x="5" y="53" width="6" height="0.8"/><rect x="14" y="53" width="6" height="0.8"/></g>
   <rect x="2.6" y="82" width="38.8" height="7" fill="#f7f7f9"/>
   <g fill="#3a8ae0"><circle cx="7" cy="85" r="1.2"/><circle cx="22" cy="84" r="2"/></g>
   <g fill="#bbb"><circle cx="14" cy="85" r="1.1"/><circle cx="30" cy="85" r="1.1"/><circle cx="37" cy="85" r="1.1"/></g>
  </g>
  <g id="phone">
   <!-- 44 x 91 at origin -->
   <rect x="0" y="0" width="44" height="91.4" rx="6.5" fill="#403c40"/>
   <rect x="1.6" y="1.6" width="40.8" height="88.2" rx="5" fill="#ffffff"/>
   <path d="M11.3 1.8 H32.5 V3.8 Q32.5 5.3 31 5.3 H12.8 Q11.3 5.3 11.3 3.8 Z" fill="#1a1a1a"/>
   <rect x="18" y="9.5" width="8" height="1.6" fill="#444" opacity="0.7"/>
   <rect x="2.6" y="11" width="38.8" height="11" fill="#22c07c"/>
   <g fill="#d8f6e8"><rect x="4" y="13.2" width="5" height="1.6"/><rect x="4" y="16.4" width="5" height="1.2"/><rect x="4" y="19.2" width="18" height="1.2"/></g>
   <g fill="#888" opacity="0.55"><rect x="4" y="24.5" width="4" height="1.6"/><rect x="10" y="24.5" width="4" height="1.3"/><rect x="16" y="24.5" width="4" height="1.3"/><rect x="4" y="29.5" width="5" height="1.3"/></g>
   <g fill="#f0f0f2"><rect x="4" y="32" width="10" height="4"/><rect x="16" y="32" width="10" height="4"/><rect x="28" y="32" width="10" height="4"/><rect x="4" y="38" width="10" height="4"/><rect x="16" y="38" width="10" height="4"/><rect x="28" y="38" width="10" height="4"/></g>
   <g fill="#666" opacity="0.5"><rect x="5" y="33" width="4" height="1"/><rect x="17" y="33" width="4" height="1"/><rect x="29" y="33" width="3" height="1"/><rect x="5" y="39" width="4" height="1"/><rect x="17" y="39" width="4" height="1"/><rect x="29" y="39" width="3" height="1"/><rect x="4" y="46" width="7" height="1.2"/><rect x="30" y="46" width="10" height="1.2"/></g>
   <path d="M5 69 L5 54 Q11 50 16 53 Q21 56 26 54 Q33 51 40 55 L40 69 Z" fill="url(#phChart)"/>
   <path d="M5 54 Q11 50 16 53 Q21 56 26 54 Q33 51 40 55" stroke="#5cd6a0" stroke-width="0.8" fill="none"/>
   <circle cx="17.8" cy="54" r="1" fill="#22b060"/>
   <g fill="#999" opacity="0.45"><rect x="4" y="77" width="4" height="1.3"/><rect x="4" y="81.5" width="4" height="1"/><rect x="4" y="86" width="4" height="1"/></g>
   <rect x="5.5" y="86.5" width="2.5" height="2.5" fill="#22c07c"/>
  </g>
 </defs>
 <svg x="517" y="476" width="238" height="132.3" viewBox="0 0 238 132.3" overflow="hidden"><use href="#scr"/></svg>
 <use href="#phone" transform="translate(506.5 520)"/>
 <svg x="510" y="1142" width="241" height="156.3" viewBox="0 0 238 154.5" preserveAspectRatio="none" overflow="hidden"><use href="#scr"/></svg>
 <use href="#phone2" transform="translate(500.6 1187.4) scale(1.027)"/>
</svg>

<!-- lines section 1 -->
<svg id="lines1" width="790" height="1389" viewBox="0 0 790 1389">
  <g stroke="#d65f10" stroke-width="2" fill="none">
    <path d="M112 541 V240 H509 V272"/>
    <path d="M169 240 V523"/>
    <path d="M227 240 V489"/>
    <path d="M282 240 V488"/>
    <path d="M339 240 V488"/>
    <path d="M544 272 V240 H660 V316"/>
    <path d="M660 369 V476" stroke-dasharray="3 3"/>
  </g>
  <g stroke="#0a1f5a" stroke-width="2" fill="none">
    <path d="M525 390 V432 H440 V610 H211"/>
    <path d="M440 493 H288"/>
    <path d="M440 531 H260"/>
    <path d="M440 571 H288"/>
  </g>
</svg>

<svg id="parts" width="790" height="1389" viewBox="0 0 790 1389">
 <defs>
  <linearGradient id="caseG" x1="0" x2="1" y1="0" y2="0">
   <stop offset="0" stop-color="#dedad4"/><stop offset="0.15" stop-color="#f0eeea"/><stop offset="0.85" stop-color="#f0eeea"/><stop offset="1" stop-color="#d6d2cc"/>
  </linearGradient>
  <g id="term3">
   <rect x="0" y="0" width="24" height="17.5" fill="#5db86a"/>
   <rect x="0" y="0" width="24" height="10" fill="#78cc84"/>
   <rect x="0" y="13" width="24" height="4.5" fill="#3e9a50"/>
   <g fill="#a8aab0" stroke="#6a6c74" stroke-width="0.7"><circle cx="5" cy="5.5" r="2.6"/><circle cx="12" cy="5.5" r="2.6"/><circle cx="19" cy="5.5" r="2.6"/></g>
   <g fill="#1e3a24"><rect x="4" y="13" width="2" height="2"/><rect x="11" y="13" width="2" height="2"/><rect x="18" y="13" width="2" height="2"/></g>
  </g>
  <g id="dev">
   <!-- tabs -->
   <path d="M517 271 Q517 263 524.5 263 Q532 263 532 271 Z" fill="#e4e0da" stroke="#cfcac2" stroke-width="0.6"/>
   <circle cx="524.5" cy="267.5" r="1.6" fill="#fff"/>
   <path d="M513 384 L536 384 Q536 391 524.5 391 Q513 391 513 384 Z" fill="#e4e0da"/>
   <!-- case -->
   <rect x="487.6" y="268.6" width="72.4" height="117" rx="3" fill="url(#caseG)" stroke="#d8d3cc" stroke-width="0.6"/>
   <!-- holes -->
   <g><circle cx="494.5" cy="275" r="4.3" fill="#fff"/><circle cx="494.5" cy="275" r="3.2" fill="#4b2f22"/>
   <circle cx="553.5" cy="275" r="4.3" fill="#fff"/><circle cx="553.5" cy="275" r="3.2" fill="#4b2f22"/>
   <circle cx="494.5" cy="378.5" r="4.3" fill="#fff"/><circle cx="494.5" cy="378.5" r="3.2" fill="#4b2f22"/>
   <circle cx="553.5" cy="378.5" r="4.3" fill="#fff"/><circle cx="553.5" cy="378.5" r="3.2" fill="#4b2f22"/></g>
   <!-- top terminals -->
   <rect x="499" y="272.5" width="49.5" height="20" fill="#2e3a30"/>
   <use href="#term3" x="499.7" y="273"/>
   <use href="#term3" x="523.8" y="273"/>
   <!-- navy panel -->
   <rect x="491.4" y="293.1" width="63.9" height="67.3" fill="#2a3348"/>
   <g fill="#e8ecf2" opacity="0.9">
    <rect x="502" y="297.8" width="5" height="2.6" rx="1"/><rect x="508.5" y="297.8" width="5" height="2.6" rx="1"/><rect x="515" y="297.8" width="5" height="2.6" rx="1"/>
    <rect x="526" y="297.8" width="5" height="2.6" rx="1"/><rect x="532.5" y="297.8" width="5" height="2.6" rx="1"/><rect x="539" y="297.8" width="5" height="2.6" rx="1"/>
   </g>
   <g fill="none" stroke="#c8ccd8" stroke-width="0.5" opacity="0.7">
    <path d="M502 296 Q510 293 520 296 M502 302 Q510 305 520 302 M526 296 Q534 293 544 296 M526 302 Q534 305 544 302"/>
   </g>
   <g fill="#9aa2b4" opacity="0.7"><rect x="509" y="305.5" width="5" height="1"/><rect x="533" y="305.5" width="5" height="1"/></g>
   <!-- blue band -->
   <rect x="491.4" y="312.9" width="63.9" height="18.7" fill="#1670c8"/>
   <rect x="491.4" y="312.9" width="63.9" height="1.8" fill="#28a8f2"/>
   <rect x="491.4" y="329.6" width="63.9" height="2" fill="#28a8f2"/>
   <rect x="491.4" y="311.8" width="63.9" height="1.1" fill="#3a2a2a" opacity="0.6"/>
   <rect x="491.4" y="331.6" width="63.9" height="1.1" fill="#3a2a2a" opacity="0.6"/>
   <g fill="#e9f2ff">
    <rect x="498.6" y="317.8" width="17" height="2.6" rx="0.8"/>
    <rect x="500" y="322.3" width="14" height="4.5" rx="0.8" opacity="0.85"/>
    <rect x="522.3" y="317" width="0.6" height="11"/>
    <rect x="524.5" y="319.4" width="20.5" height="3" rx="0.8"/>
    <rect x="524.5" y="324.6" width="28" height="1.3" opacity="0.7"/>
   </g>
   <rect x="530" y="334" width="15" height="2.5" fill="#c8ccd8" opacity="0.55"/>
   <g fill="#eef0f4">
    <rect x="516" y="343.3" width="22" height="2.6"/>
    <rect x="518" y="353.8" width="22" height="2.6"/>
   </g>
   <g fill="#aab0be" opacity="0.6"><rect x="515" y="347.8" width="25" height="1.4"/><rect x="517" y="358" width="25" height="1.3"/><rect x="524" y="340" width="4" height="1.2"/><rect x="520" y="350.5" width="16" height="1.2"/></g>
   <!-- bottom terminals -->
   <rect x="512" y="360.6" width="36" height="24" fill="#27332c"/>
   <rect x="514.4" y="362.5" width="27.4" height="12" fill="#6cc47a"/>
   <g fill="#a8a6b8" stroke="#6a6c74" stroke-width="0.6"><circle cx="518.5" cy="367.5" r="2.3"/><circle cx="524.5" cy="367.5" r="2.3"/><circle cx="530.5" cy="367.5" r="2.3"/><circle cx="536.5" cy="367.5" r="2.3"/></g>
   <rect x="515.4" y="374.5" width="27" height="12" fill="#5cb86c"/>
   <g fill="#a8a6b8" stroke="#6a6c74" stroke-width="0.6"><circle cx="520" cy="379.5" r="2.3"/><circle cx="526" cy="379.5" r="2.3"/><circle cx="532" cy="379.5" r="2.3"/><circle cx="538" cy="379.5" r="2.3"/></g>
   <rect x="541.8" y="363" width="5" height="20" fill="#1f2a24"/>
  </g>

  <g id="dtu">
   <polygon points="665.7,297 683.2,276.2 686,279 668.5,300.5" fill="#1c1c20"/>
   <g fill="#f2f2f2"><ellipse cx="672.5" cy="289" rx="2.2" ry="0.9" transform="rotate(-50 672.5 289)"/><ellipse cx="679" cy="281.5" rx="2.2" ry="0.9" transform="rotate(-50 679 281.5)"/><ellipse cx="668.5" cy="295" rx="1.6" ry="0.8" transform="rotate(-50 668.5 295)"/></g>
   <polygon points="656.6,257.6 679.7,266 680.5,271 663.4,300 637.2,288.7 637.2,283.8" fill="#2a2a30"/>
   <polygon points="657,258.7 678.2,266.7 661.9,292.5 638.4,283.4" fill="#2264bf"/>
   <polygon points="657,258.7 662.6,260.6 655,272 656,277 648.2,287.2 638.4,283.4" fill="#3592e2"/>
   <path d="M662.6 260.6 L655 272 L656 277 L648.2 287.2" stroke="#d8703c" stroke-width="0.6" fill="none"/>
   <circle cx="660.5" cy="268.5" r="0.9" fill="#ff8a2a"/>
   <g fill="#a8c6f0" opacity="0.55"><rect x="662" y="271" width="8" height="1.6" transform="rotate(22 666 272)"/><rect x="660" y="275" width="9" height="1" transform="rotate(22 664 275)"/></g>
   <polygon points="638.4,287.2 649.7,291 649.7,293.5 638.4,289.6" fill="#5a5a62"/>
   <polygon points="660,256.2 665.5,258 664.5,260.5 659,258.7" fill="#4cc06a"/>
   <polygon points="650,292.5 657.5,295 658.9,302.4 651.2,300" fill="#4cc06a"/>
  </g>

  <g id="cld">
   <g fill="none" stroke="#3aa6e0" stroke-width="5">
    <circle cx="636" cy="352" r="14.5"/><circle cx="661" cy="340" r="23"/><circle cx="686.5" cy="352" r="14"/><rect x="636" y="346" width="50" height="20.5"/>
   </g>
   <g fill="#cce8f3">
    <circle cx="636" cy="352" r="14.5"/><circle cx="661" cy="340" r="23"/><circle cx="686.5" cy="352" r="14"/><rect x="636" y="346" width="50" height="20.5"/>
   </g>
  </g>
 </defs>

 <use href="#dev"/>
 <use href="#dtu"/>
 <use href="#cld"/>
</svg>
<div class="a" style="left:680px;top:296px;font-size:15.5px;line-height:15.5px;color:#3a4058;">DTU</div>
<div class="a" style="left:636px;top:338px;font-size:17px;line-height:17px;color:#2b9ad8;-webkit-text-stroke:0.35px #2b9ad8;">云平台</div>
<div class="v" style="left:90px;top:263px;">大<br>棚<br>环<br>境</div>
<div class="v" style="left:147px;top:263px;">气<br>象<br>监<br>测</div>
<div class="v" style="left:205px;top:263px;">水<br>质<br>监<br>测</div>
<div class="v" style="left:260px;top:263px;">氨<br>气<br>监<br>测</div>
<div class="v" style="left:317px;top:263px;">土<br>壤<br>监<br>测</div>
<div class="lb" style="left:404px;top:246px;">数据接入</div>
<div class="lb" style="left:565px;top:247px;">数据上云</div>
<div class="lb" style="left:445px;top:407.5px;">输出控制</div>
<div class="sl" style="left:385px;top:472px;">投喂机</div>
<div class="sl" style="left:400px;top:510px;">水泵</div>
<div class="sl" style="left:385px;top:552px;">卷帘机</div>
<div class="sl" style="left:385px;top:590px;">鼓风机</div>
<div class="cap" style="left:545px;top:627px;">电脑手机端远程监测 / 控制</div>

<!-- ============ SECTION 2 ============ -->
<div class="title" style="left:249px;top:727px;width:308px;"><span style="top:0.3px">智能家居<i class="sl2">/</i>物业解决方案</span></div>
<div class="para" style="top:792.5px;">串口IO控制器可用于智能家居各种控制场景<span class="c">，</span>例如查看温湿度<span class="c">，</span>空气质量<span class="c">，</span>控制新风空调<span class="c">，</span>各</div>
<div class="para" style="top:830.5px;">类电磁阀<span class="c">，</span>照明设备以及门禁车库<span class="c">，</span>通过一部手机或电脑即可掌握全部状态。</div>

<svg id="bld" width="790" height="1389" viewBox="0 0 790 1389">
 <defs>
  <clipPath id="bclip"><rect x="38" y="1033" width="390.5" height="298"/></clipPath>
  <linearGradient id="ceilG" x1="0" x2="1" y1="0" y2="0"><stop offset="0" stop-color="#f6dccd"/><stop offset="0.6" stop-color="#eeb69a"/><stop offset="1" stop-color="#f0c8b0"/></linearGradient>
  <linearGradient id="winG" x1="0" x2="0" y1="0" y2="1"><stop offset="0" stop-color="#eaf2f6"/><stop offset="1" stop-color="#d4e6ee"/></linearGradient>
  <linearGradient id="gfloorG" x1="0" x2="0" y1="0" y2="1"><stop offset="0" stop-color="#928268"/><stop offset="1" stop-color="#6e604c"/></linearGradient>
 </defs>
 <g clip-path="url(#bclip)">
  <rect x="38" y="1033" width="391" height="298" fill="#fbfbfc"/>
  <!-- LEFT SECTION -->
  <!-- top floor interior -->
  <polygon points="38,1049 314,1066 314,1130 38,1130" fill="url(#winG)"/>
  <polygon points="38,1049 314,1066 314,1087 38,1079" fill="url(#ceilG)"/>
  <g fill="#ffffff" opacity="0.9">
   <polygon points="70,1054 108,1056 106,1059 68,1057"/><polygon points="66,1064 86,1065 85,1067 65,1066"/><polygon points="62,1072 86,1073 85,1075 61,1074"/>
   <polygon points="178,1062 213,1064 211,1067 176,1065"/><polygon points="165,1070 198,1072 196,1075 163,1073"/><polygon points="155,1078 185,1079 184,1081 154,1080"/>
   <polygon points="252,1072 290,1074 289,1077 251,1075"/>
  </g>
  <g stroke="#4a4c50" stroke-width="1">
   <path d="M60 1080 V1125 M118 1081 V1126 M172 1082 V1127 M222 1083 V1127 M262 1084 V1127"/>
  </g>
  <polygon points="38,1033 314,1046 314,1067 38,1049" fill="#2c302c"/>
  <polygon points="38,1033 314,1046 314,1050 38,1037" fill="#6a6e68"/>
  <circle cx="55" cy="1043" r="3.5" fill="#1a1c1a"/>
  <!-- white wall right of top floor -->
  <polygon points="270,1064 314,1066 314,1130 270,1130" fill="#f2f2f2"/>
  <polygon points="286,1034 313,1034 313,1050 286,1048" fill="#cfd0cc"/>
  <!-- columns top -->
  <rect x="87" y="1062" width="14" height="64" fill="#f4e6e2"/>
  <rect x="203" y="1070" width="14" height="58" fill="#f4e6e2"/>
  <rect x="296" y="1066" width="12" height="60" fill="#f7f4f2"/>
  <!-- cubicles -->
  <polygon points="38,1098 100,1099 100,1127 38,1126" fill="#5c5878"/>
  <rect x="38" y="1097" width="62" height="3" fill="#8a86a0"/>
  <polygon points="136,1106 142,1102 203,1103 203,1128 136,1128" fill="#5c5878"/>
  <rect x="142" y="1101" width="61" height="3" fill="#8a86a0"/>
  <polygon points="242,1108 250,1106 250,1129 242,1129" fill="#6a6488"/>
  <rect x="250" y="1112" width="40" height="6" fill="#d8d0cc"/>
  <g fill="#1c1c1e"><rect x="76" y="1092" width="12" height="6"/><rect x="150" y="1096" width="5" height="5"/><rect x="157" y="1096" width="13" height="6"/><rect x="258" y="1103" width="5" height="5"/></g>
  <rect x="268" y="1110" width="10" height="4" fill="#2a80c0"/>
  <!-- slab 2 -->
  <polygon points="38,1126 314,1128 314,1133 38,1131" fill="#8a8e86"/>
  <polygon points="38,1131 314,1133 314,1150 38,1148" fill="#222522"/>
  <rect x="92" y="1136" width="12" height="10" fill="#3a3d3a"/><rect x="205" y="1138" width="12" height="10" fill="#3a3d3a"/>
  <!-- floor 2 -->
  <polygon points="38,1148 314,1150 314,1214 38,1222" fill="url(#winG)"/>
  <polygon points="38,1148 314,1150 314,1154 38,1153" fill="#ecc2aa"/>
  <g stroke="#4a4c50" stroke-width="1"><path d="M57 1154 V1195 M110 1154 V1192 M140 1154 V1195 M160 1154 V1195 M195 1154 V1192"/></g>
  <rect x="87" y="1152" width="14" height="60" fill="#f4eeea"/>
  <rect x="175" y="1152" width="13" height="56" fill="#f4eeea"/>
  <rect x="205" y="1152" width="13" height="56" fill="#f4eeea"/>
  <polygon points="230,1152 314,1150 314,1214 230,1212" fill="#f3f3f3"/>
  <rect x="250" y="1152" width="4" height="55" fill="#e8442a"/>
  <rect x="228" y="1152" width="4" height="55" fill="#ee6020"/>
  <rect x="270" y="1170" width="11" height="13" fill="#222"/>
  <!-- wood floor 2 -->
  <polygon points="38,1206 314,1200 314,1215 38,1222" fill="#d48a4c"/>
  <!-- desks floor2 -->
  <g fill="#d42a24">
   <rect x="102" y="1191" width="33" height="20"/>
   <rect x="167" y="1193" width="50" height="24"/>
   <rect x="217" y="1187" width="18" height="20"/>
   <rect x="232" y="1200" width="30" height="16"/>
   <rect x="262" y="1183" width="20" height="10"/>
  </g>
  <rect x="168" y="1193" width="48" height="3" fill="#e85040"/>
  <g fill="#1a1a1c">
   <rect x="39" y="1186" width="14" height="9"/><rect x="56" y="1186" width="16" height="9"/>
   <rect x="103" y="1182" width="11" height="7"/><rect x="117" y="1182" width="10" height="7"/>
   <rect x="186" y="1179" width="10" height="7"/><rect x="203" y="1185" width="14" height="7"/><rect x="220" y="1178" width="12" height="6"/>
  </g>
  <rect x="38" y="1196" width="48" height="14" fill="#38383a"/>
  <rect x="58" y="1196" width="10" height="15" fill="#6a4a3a"/>
  <rect x="64" y="1193" width="8" height="5" fill="#2a70c0"/><rect x="86" y="1194" width="6" height="18" fill="#9aa0a8"/>
  <rect x="150" y="1193" width="16" height="18" fill="#b8bcc2"/>
  <rect x="262" y="1196" width="34" height="12" fill="#efe6de"/>
  <!-- slab 1 -->
  <polygon points="38,1221 314,1216 314,1223 38,1231" fill="#a6aa9e"/>
  <!-- ground floor -->
  <polygon points="38,1231 314,1223 314,1302 38,1324" fill="#d6d4d0"/>
  <polygon points="100,1229 162,1227 162,1246 100,1247" fill="#fafafa"/>
  <polygon points="38,1275 100,1270 162,1246 175,1258 314,1250 314,1302 38,1324" fill="url(#gfloorG)"/>
  <polygon points="130,1252 162,1246 200,1285 314,1282 314,1300 190,1300" fill="#8f7f66" opacity="0.5"/>
  <g fill="#efedea">
   <rect x="77" y="1230" width="10" height="54"/>
   <rect x="87" y="1230" width="14" height="79"/>
   <rect x="174" y="1228" width="12" height="48"/>
   <rect x="202" y="1227" width="15" height="72"/>
   <rect x="240" y="1226" width="9" height="46"/>
   <rect x="272" y="1225" width="10" height="66"/>
   <rect x="288" y="1224" width="12" height="58"/>
  </g>
  <g fill="#c8c6c2"><rect x="77" y="1230" width="3" height="54"/><rect x="87" y="1230" width="3" height="79"/><rect x="202" y="1227" width="3" height="72"/></g>
  <ellipse cx="66" cy="1236" rx="5" ry="4" fill="#222"/>
  <g fill="#f4f4f4"><polygon points="126,1280 134,1283 131,1285 125,1282"/><polygon points="238,1267 252,1268 250,1270 236,1269"/><polygon points="263,1290 282,1301 280,1303 261,1292"/></g>
  <!-- bottom slab -->
  <polygon points="38,1323 314,1301 314,1311 38,1331" fill="#a4a89c"/>
  <!-- ELEVATOR -->
  <rect x="314.5" y="1033" width="48.5" height="279" fill="#4d4f4c"/>
  <g fill="#3a3c3a"><rect x="325" y="1033" width="3" height="279"/><rect x="338" y="1033" width="3" height="279"/><rect x="350" y="1033" width="2" height="279"/></g>
  <rect x="314.5" y="1033" width="2.5" height="279" fill="#8a8c88"/>
  <rect x="360.5" y="1033" width="2.5" height="279" fill="#6a6c68"/>
  <g fill="none" stroke="#9a9c98" stroke-width="1"><circle cx="320" cy="1042" r="4"/><circle cx="334" cy="1043" r="4.5"/></g>
  <rect x="316.5" y="1149" width="44" height="68" fill="#6a6c68"/>
  <rect x="317.5" y="1151" width="42" height="62" fill="#7c3212"/>
  <rect x="327" y="1153" width="22" height="55" fill="#a8481a"/>
  <rect x="317.5" y="1188" width="42" height="2" fill="#e6e2de"/>
  <rect x="317.5" y="1208" width="42" height="6" fill="#8c7060"/>
  <rect x="322" y="1293" width="5" height="7" fill="#1e1e1e"/><rect x="337" y="1293" width="5" height="7" fill="#1e1e1e"/>
  <rect x="316.5" y="1300" width="44" height="10" fill="#3a3c3a"/>
  <!-- RIGHT SECTION -->
  <polygon points="363,1055 428,1058 428,1076 363,1073" fill="#2c302c"/>
  <polygon points="363,1053 428,1056 428,1059 363,1056" fill="#8a8e86"/>
  <polygon points="363,1073 428,1076 428,1084 363,1082" fill="#ecc0a6"/>
  <polygon points="380,1076 396,1077 395,1079 379,1078" fill="#fff"/>
  <rect x="363" y="1082" width="65" height="51" fill="#a6dcc2"/>
  <rect x="364" y="1088" width="17" height="45" fill="#b8682c"/>
  <circle cx="395.5" cy="1098" r="3" fill="#f0f0f0" stroke="#888" stroke-width="0.6"/>
  <rect x="402" y="1112" width="26" height="20" fill="#3a2a24"/>
  <rect x="384" y="1118" width="18" height="2" fill="#666"/>
  <rect x="405" y="1113" width="4" height="6" fill="#2a70c0"/>
  <polygon points="363,1132 428,1133 428,1137 363,1136" fill="#9a9e96"/>
  <polygon points="363,1136 428,1137 428,1150 363,1150" fill="#282a28"/>
  <rect x="363" y="1150" width="65" height="61" fill="#ee5c0e"/>
  <rect x="363" y="1150" width="65" height="3" fill="#f2d8c8"/>
  <rect x="365" y="1158" width="15" height="52" fill="#b8682c"/>
  <rect x="381" y="1160" width="18" height="47" fill="#f0c2a6"/>
  <g fill="#3e8a3a"><ellipse cx="399" cy="1190" rx="7" ry="6"/><ellipse cx="404" cy="1186" rx="4" ry="5"/></g>
  <rect x="396" y="1196" width="5" height="9" fill="#d8d0c8"/>
  <rect x="404" y="1195" width="24" height="15" fill="#d4221c"/>
  <polygon points="363,1210 428,1208 428,1213 363,1215" fill="#c88850"/>
  <polygon points="363,1214 428,1212 428,1219 363,1221" fill="#a4a89c"/>
  <polygon points="363,1221 428,1219 428,1297 363,1302" fill="#e2dedb"/>
  <polygon points="363,1262 375,1262 428,1275 428,1290 363,1300" fill="#8a7a62"/>
  <polygon points="363,1300 428,1290 428,1297 363,1307" fill="#a4a89c"/>
 </g>
</svg>


<svg id="lines2" width="790" height="1389" viewBox="0 0 790 1389">
  <g stroke="#d65f10" stroke-width="2" fill="none">
    <path d="M75 1251 V919 H549 V953"/>
    <path d="M132 919 V1252"/>
    <path d="M192 919 V1064"/>
    <path d="M248 919 V1179"/>
    <path d="M300 919 V1108"/>
    <path d="M367 919 V1206"/>
    <path d="M403 919 V1108"/>
    <path d="M587 953 V919 H712 V995"/>
    <path d="M712 1047 V1133" stroke-dasharray="3 3"/>
  </g>
  <g stroke="#0a1f5a" stroke-width="2" fill="none">
    <path d="M569 1073 V1111 H483"/>
    <path d="M304 1088 H483 V1242 H131"/>
    <path d="M400 1128 H483"/>
    <path d="M367 1168 H483"/>
  </g>
</svg>
<svg id="parts2" width="790" height="1389" viewBox="0 0 790 1389">
 <use href="#dev" transform="translate(44.5 679.5)"/>
 <use href="#dtu" transform="translate(52 673)"/>
 <use href="#cld" transform="translate(52 679)"/>
</svg>
<div class="a" style="left:727px;top:963.5px;font-size:15.5px;line-height:15.5px;color:#3a4058;">DTU</div>
<div class="a" style="left:688px;top:1017px;font-size:17px;line-height:17px;color:#2b9ad8;-webkit-text-stroke:0.35px #2b9ad8;">云平台</div>


<div class="v" style="left:53px;top:946px;">烟<br>感<br>报<br>警</div>
<div class="v" style="left:110px;top:946px;">车<br>库<br>门<br>禁</div>
<div class="v" style="left:170px;top:946px;">水<br>阀<br>状<br>态</div>
<div class="v" style="left:226px;top:946px;">室<br>温<br>环<br>境</div>
<div class="v" style="left:278px;top:946px;">照<br>明<br>状<br>态</div>
<div class="v" style="left:345px;top:946px;">门<br>禁<br>状<br>态</div>
<div class="v" style="left:381px;top:946px;">空<br>调<br>状<br>态</div>
<div class="lb" style="left:455px;top:926px;">数据接入</div>
<div class="lb" style="left:617px;top:926px;">数据上云</div>
<div class="lb" style="left:490px;top:1086px;">输出控制</div>
<div class="sl" style="left:440px;top:1092.5px;">照明</div>
<div class="sl" style="left:440px;top:1133px;">空调</div>
<div class="sl" style="left:440px;top:1175.5px;">门禁</div>
<div class="sl" style="left:440px;top:1248.5px;">道闸</div>
<div class="cap" style="left:540px;top:1319px;">电脑手机端远程监测 / 控制</div>

</div>
</body>
</html>
